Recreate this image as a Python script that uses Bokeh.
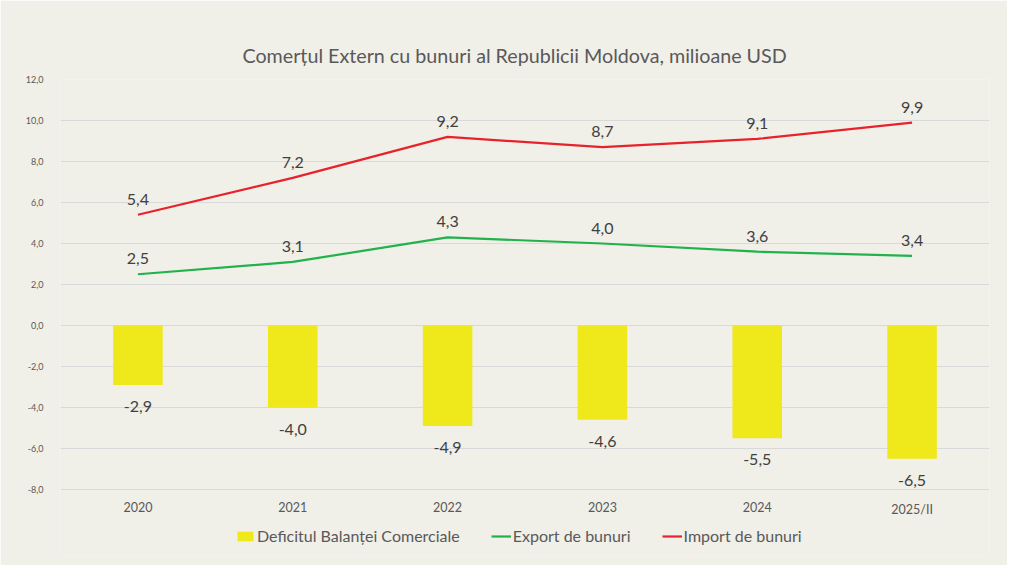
from bokeh.plotting import figure
from bokeh.models import (ColumnDataSource, FactorRange, Range1d, FixedTicker,
                          CustomJSTickFormatter, LabelSet, Legend, LegendItem)
from bokeh.core.properties import value
from bokeh.embed import file_html
from bokeh.resources import INLINE

years = ["2020", "2021", "2022", "2023", "2024", "2025/II"]
deficit = [-2.9, -4.0, -4.9, -4.6, -5.5, -6.5]
export = [2.5, 3.1, 4.3, 4.0, 3.6, 3.4]
imports = [5.4, 7.2, 9.2, 8.7, 9.1, 9.9]
y_ticks = [-8, -6, -4, -2, 0, 2, 4, 6, 8, 10, 12]

def fmt(v):
    return f"{v:.1f}".replace(".", ",")

src = ColumnDataSource(dict(
    x=years, deficit=deficit, export=export, imports=imports,
    dlab=[fmt(v) for v in deficit], elab=[fmt(v) for v in export],
    ilab=[fmt(v) for v in imports],
))

FONT = "Lato"
GREY = "#595959"
BG = "#f0efe8"

# layout: frame top at the 12,0 gridline; extra room below -8 for category labels + legend
H, TOP, BOTTOM = 565, 79, 10
y_lo, y_hi = min(y_ticks), max(y_ticks)
px_per_unit = 410 / (y_hi - y_lo)
extra = ((H - TOP - BOTTOM) - 410) / px_per_unit

p = figure(x_range=FactorRange(*years), y_range=Range1d(y_lo - extra, y_hi),
           width=1007, height=H, output_backend="svg", toolbar_location=None,
           min_border_left=60, min_border_right=18, min_border_top=TOP,
           min_border_bottom=BOTTOM)
p.background_fill_color = BG
p.border_fill_color = BG
p.outline_line_color = None

p.title.text = "Comerțul Extern cu bunuri al Republicii Moldova, milioane USD"
p.title.align = "left"
p.title.text_font = FONT
p.title.text_font_size = "19.7px"
p.title.text_font_style = "normal"
p.title.text_color = GREY
p.title.offset = 182
p.title.standoff = 26

bars = p.vbar(x="x", top="deficit", bottom=0, width=0.32, source=src,
              fill_color="#efe81b", line_color=None)
l_exp = p.line(x="x", y="export", source=src, line_color="#21b24b", line_width=2.2)
l_imp = p.line(x="x", y="imports", source=src, line_color="#e8222a", line_width=2.2)

for col, lab, yoff in (("deficit", "dlab", -27), ("export", "elab", 10), ("imports", "ilab", 10)):
    p.add_layout(LabelSet(x="x", y=col, text=lab, source=src, y_offset=yoff,
                          text_align="center", text_font=value(FONT),
                          text_font_size=value("16px"), text_color="#404040"))

# category labels just under the lowest gridline
p.add_layout(LabelSet(x="x", y=y_lo, text="x", source=src, y_offset=-12,
                      text_align="center", text_baseline="top", text_font=value(FONT),
                      text_font_size=value("12.5px"), text_color=GREY))
p.xaxis.visible = False

p.yaxis.ticker = FixedTicker(ticks=y_ticks)
p.yaxis.formatter = CustomJSTickFormatter(code="return tick.toFixed(1).replace('.', ',');")
p.yaxis.major_label_text_font_size = "9px"
p.yaxis.axis_line_color = None
p.yaxis.major_tick_line_color = None
p.yaxis.minor_tick_line_color = None
p.yaxis.major_label_text_color = GREY
p.yaxis.major_label_text_font = FONT
p.yaxis.major_label_standoff = 11
p.xgrid.grid_line_color = None
p.ygrid.grid_line_color = "#d9d9d9"
p.ygrid.ticker = FixedTicker(ticks=y_ticks)

legend = Legend(items=[
    LegendItem(label="Deficitul Balanței Comerciale", renderers=[bars]),
    LegendItem(label="Export de bunuri", renderers=[l_exp]),
    LegendItem(label="Import de bunuri", renderers=[l_imp]),
], orientation="horizontal", location=(175, 10),
    background_fill_alpha=0, border_line_color=None,
    label_text_font=FONT, label_text_font_size="16px", label_text_color=GREY,
    glyph_width=20, glyph_height=12, spacing=31, label_standoff=2,
    margin=0, padding=4)
p.add_layout(legend)

open("out.html", "w").write(file_html(p, INLINE))
